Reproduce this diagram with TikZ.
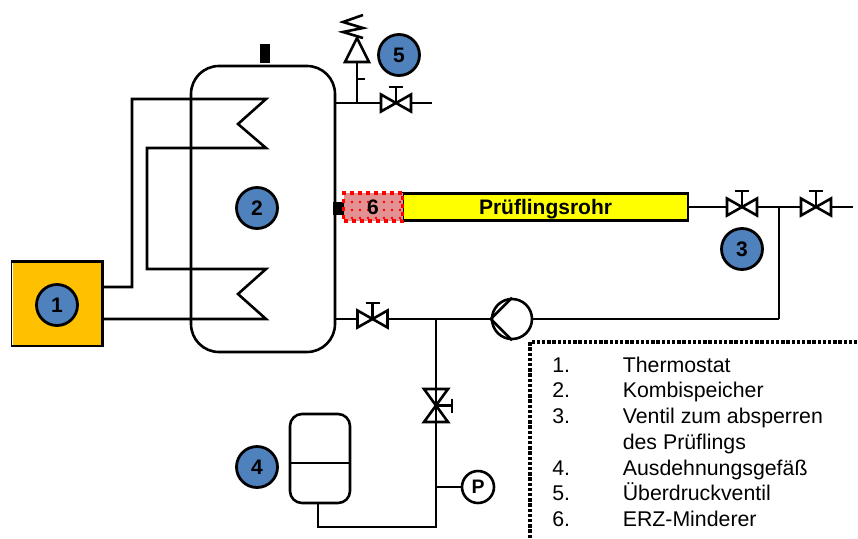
\documentclass[tikz,border=0pt]{standalone}
\usepackage{fontspec}
\setmainfont{Liberation Sans}
\usetikzlibrary{patterns.meta}
\definecolor{kreisblau}{HTML}{4F81BD}
\definecolor{kesselgelb}{HTML}{FFC000}
\definecolor{rohrgelb}{HTML}{FFFF00}
\definecolor{mindererrot}{HTML}{E29292}
\tikzstyle{every path}=[line width=2.6pt]
\tikzstyle{nummer}=[circle, draw=black, fill=kreisblau, line width=2.8pt, inner sep=0pt, minimum width=41pt, font=\fontsize{21}{21}\selectfont\bfseries]
\tikzstyle{legende}=[anchor=base west, inner sep=0pt, font=\fontsize{21.3}{21}\selectfont]
\tikzset{pics/ventil/.style 2 args={code={
      \draw[fill=white] (-#1,-#2) -- (#1,#2) -- (#1,-#2) -- (-#1,#2) -- cycle;
      \draw (0,0) -- (0,-16) (-7,-16) -- (7,-16);
      \coordinate (-a) at (-#1,0);
      \coordinate (-b) at (#1,0);}}}

\begin{document}
\begin{tikzpicture}[x=1pt,y=-1pt]
		\useasboundingbox (0,0) rectangle (858,538);
		% Thermostat und Speicher
		\node[fill=kesselgelb, inner sep=0pt, minimum width=88.5pt, minimum height=82pt] (thermostat) at (57,303.5) {};
		\draw[line width=.6pt] (thermostat.north west) -- (thermostat.south west);
		\draw (thermostat.north west) -- (thermostat.north east) -- (thermostat.south east) -- (thermostat.south west);
		\node[draw, rounded corners=28pt, inner sep=0pt, minimum width=144pt, minimum height=286pt] (speicher) at (263,209) {};
		\node[fill=black, inner sep=0pt, minimum width=10pt, minimum height=19pt, anchor=south] (stutzen) at (speicher.north) [xshift=2pt] {};
		% Rohrschlangen
		\coordinate (k1) at (102,287);
		\coordinate (k2) at (102,319);
		\draw (k1) -- (132,287) -- (132,99) -- (266,99) -- (238,124) -- (266,148) -- (147,148) -- (147,269) -- (266,269) -- (238,294) -- (266,319) -- (k2);
		% oben rechts
		\coordinate (s1) at (335,103);
		\coordinate (s2) at (357,103);
		\coordinate (s3) at (432,103);
		\coordinate (s4) at (357,62);
		\coordinate (s5) at (365,79);
		\pic (v5) at (396,103) {ventil={15}{8.5}};
		\draw (s1) -- (v5-a);
		\draw (v5-b) -- (s3);
		\draw (s2) -- (s4);
		\draw (s5) -- (s5-|s4);
		\draw[fill=white] (345,62) -- (369,62) -- (357,38) -- cycle;
		\draw (363,15) -- (343,22) -- (363,28) -- (343,32) -- (363,38);
		% Pruefling
		\node[draw, fill=black, inner sep=0pt, minimum width=10pt, minimum height=10pt] (minderer) at (339,208.5) {};
		\node[draw, fill=rohrgelb, inner sep=0pt, minimum width=285pt, minimum height=27pt, text height=15pt, text depth=0pt, font=\fontsize{21}{21}\selectfont\bfseries] (rohr) at (545.5,207) {Prüflingsrohr};
		\node[preaction={fill=mindererrot}, pattern={Dots[distance=8pt,radius=1.3pt]}, pattern color=red, draw=red, line width=3.6pt, dash pattern=on 4pt off 4pt, inner sep=0pt, minimum width=59pt, minimum height=28pt, font=\fontsize{21}{21}\selectfont\bfseries] (erz) at (373,207) {6};
		% rechte Ventile
		\pic (v3) at (742,207) {ventil={15}{8.5}};
		\pic (v3b) at (816,207) {ventil={15}{8.5}};
		\coordinate (r1) at (779,207);
		\coordinate (r2) at (779,319);
		\coordinate (r3) at (853,207);
		\draw (rohr.east) -- (v3-a);
		\draw (v3-b) -- (v3b-a);
		\draw (v3b-b) -- (r3);
		\draw (r1) -- (r2);
		% Ruecklauf mit Pumpe
		\node[draw, circle, inner sep=0pt, minimum width=40pt] (pumpe) at (512,319) {};
		\draw (pumpe.north) -- (pumpe.west) -- (pumpe.south);
		\coordinate (u1) at (335,319);
		\coordinate (u2) at (436,319);
		\pic (v6) at (372.5,319) {ventil={15}{8.5}};
		\draw (u1) -- (v6-a);
		\draw (v6-b) -- (pumpe.west);
		\draw (pumpe.east) -- (r2);
		% Ausdehnungsgefaess
		\pic[rotate=-90] (v4) at (436,405.5) {ventil={16.5}{12}};
		\node[draw, rounded corners=12pt, inner sep=0pt, minimum width=60pt, minimum height=89pt] (gefaess) at (320,458.5) {};
		\draw (gefaess.west) ++(0,4.5) coordinate (g1) -- (g1-|gefaess.east);
		\node[draw, circle, inner sep=0pt, minimum width=32pt, font=\fontsize{19.5}{19.5}\selectfont\bfseries] (manometer) at (478,487) {P};
		\coordinate (u3) at (436,487);
		\coordinate (u4) at (436,527);
		\coordinate (u5) at (318,527);
		\coordinate (u6) at (318,503);
		\draw (u2) -- (v4-b);
		\draw (v4-a) -- (u4) -- (u5) -- (u6);
		\draw (u3) -- (manometer.west);
		% Nummern
		\node[nummer] (n1) at (57,305) {1};
		\node[nummer] (n2) at (257,208) {2};
		\node[nummer] (n3) at (742,249) {3};
		\node[nummer] (n4) at (257,467) {4};
		\node[nummer] (n5) at (399,55) {5};
		% Legende
		\coordinate (l1) at (530,538);
		\coordinate (l2) at (530,342);
		\coordinate (l3) at (858,342);
		\draw[line width=3.4pt, dash pattern=on 3.4pt off 1.8pt] (l1) -- (l2) -- (l3);
		\foreach \zeile/\y/\nr/\txt in {a/372/1./Thermostat, b/397.5/2./Kombispeicher, c/423/3./Ventil zum absperren, d/475/4./Ausdehnungsgefäß, e/500.5/5./Überdruckventil, f/526/6./ERZ-Minderer}
		{
			\node[legende] (nr\zeile) at (551,\y) {\nr};
			\node[legende] (txt\zeile) at (621.5,\y) {\txt};
		}
		\node[legende] (txtg) at (621.5,449) {des Prüflings};
\end{tikzpicture}
\end{document}
